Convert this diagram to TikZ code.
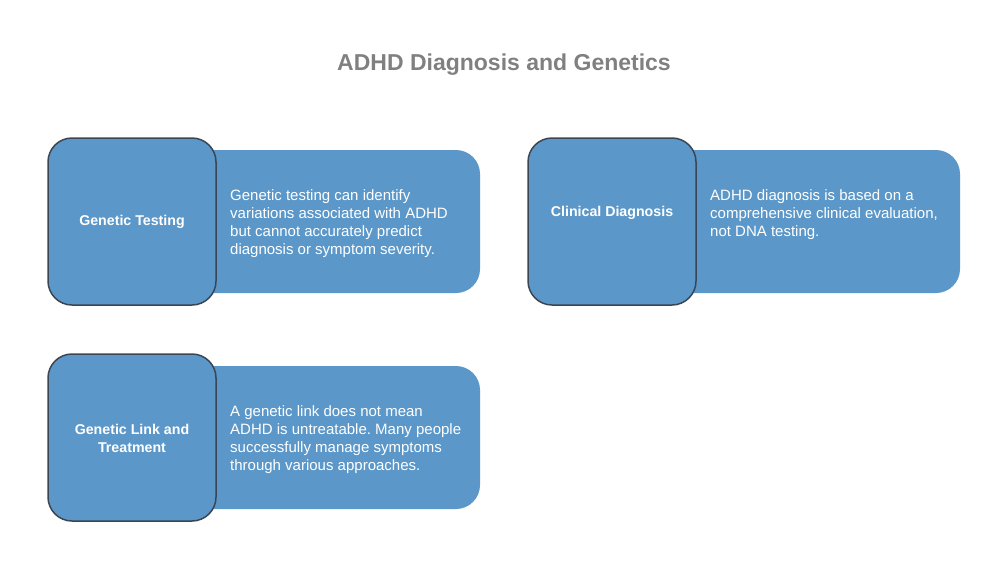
\documentclass[tikz,border=0pt]{standalone}
\usepackage{fontspec}
\setmainfont{Liberation Sans}
\frenchspacing
\definecolor{cardblue}{HTML}{5B97C8}
\definecolor{cardedge}{HTML}{3A4654}
\definecolor{titlegray}{HTML}{808080}
\tikzset{
    backcard/.style={fill=cardblue, rounded corners=24pt},
    frontcard/.style={fill=cardblue, draw=cardedge, line width=1.5pt, rounded corners=24pt},
    cardlabel/.style={text=white, font=\bfseries\fontsize{14.2}{18}\selectfont, align=center, inner sep=0pt},
    cardtext/.style={text=white, font=\fontsize{15}{18}\selectfont, align=left, anchor=north west, inner sep=0pt}
}
\begin{document}
\begin{tikzpicture}[x=1pt, y=-1pt]
        \useasboundingbox (0,0) rectangle (1008,570);
        \node[text=titlegray, font=\bfseries\fontsize{23}{26}\selectfont] (title) at (504,65) {ADHD Diagnosis and Genetics};

        % genetic testing
        \fill[backcard] (180,150) rectangle (480,293);
        \filldraw[frontcard] (48,138) rectangle (216,305);
        \node[cardlabel] (testing) at (132,222) {Genetic Testing};
        \node[cardtext] (testingtext) at (230,189) {Genetic testing can identify\\variations associated with ADHD\\but cannot accurately predict\\diagnosis or symptom severity.};

        % clinical diagnosis
        \fill[backcard] (660,150) rectangle (960,293);
        \filldraw[frontcard] (528,138) rectangle (696,305);
        \node[cardlabel] (clinical) at (612,213) {Clinical Diagnosis};
        \node[cardtext] (clinicaltext) at (710,189) {ADHD diagnosis is based on a\\comprehensive clinical evaluation,\\not DNA testing.};

        % genetic link and treatment
        \fill[backcard] (180,366) rectangle (480,509);
        \filldraw[frontcard] (48,354) rectangle (216,521);
        \node[cardlabel] (link) at (132,438) {Genetic Link and\\Treatment};
        \node[cardtext] (linktext) at (230,405) {A genetic link does not mean\\ADHD is untreatable. Many people\\successfully manage symptoms\\through various approaches.};
    \end{tikzpicture}
\end{document}
